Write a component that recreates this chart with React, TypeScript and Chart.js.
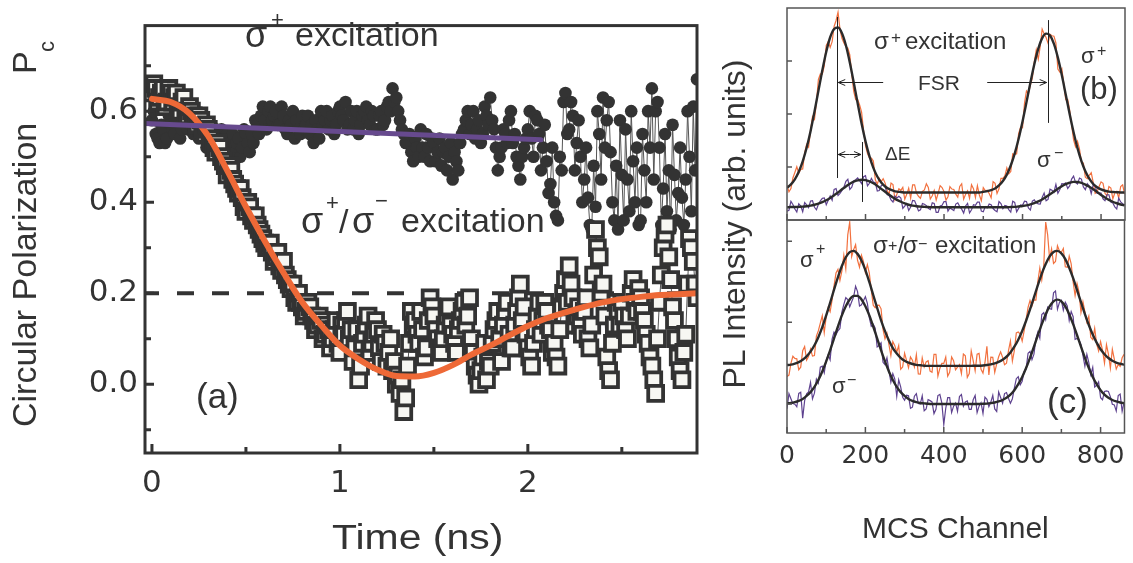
import React, { useEffect, useRef } from 'react';
import { Chart, registerables } from 'chart.js';

Chart.register(...registerables);

const W = 1133;
const H = 563;
const FONT = '"Liberation Sans", Arial, Helvetica, sans-serif';
const TICK_FONT = '"DejaVu Sans", "Liberation Sans", sans-serif';

// ---------------- Panel (a): circular polarization vs time ----------------
const timeNs = [
  0, 0.01, 0.02, 0.03, 0.04, 0.05, 0.06, 0.07, 0.08, 0.09, 0.1, 0.11, 0.12, 0.13, 0.14, 0.15, 0.16, 0.17, 0.18, 0.19,
  0.2, 0.21, 0.22, 0.23, 0.24, 0.25, 0.26, 0.27, 0.28, 0.29, 0.3, 0.31, 0.32, 0.33, 0.34, 0.35, 0.36, 0.37, 0.38, 0.39,
  0.4, 0.41, 0.42, 0.43, 0.44, 0.45, 0.46, 0.47, 0.48, 0.49, 0.5, 0.51, 0.52, 0.53, 0.54, 0.55, 0.56, 0.57, 0.58, 0.59,
  0.6, 0.61, 0.62, 0.63, 0.64, 0.65, 0.66, 0.67, 0.68, 0.69, 0.7, 0.71, 0.72, 0.73, 0.74, 0.75, 0.76, 0.77, 0.78, 0.79,
  0.8, 0.81, 0.82, 0.83, 0.84, 0.85, 0.86, 0.87, 0.88, 0.89, 0.9, 0.91, 0.92, 0.93, 0.94, 0.95, 0.96, 0.97, 0.98, 0.99,
  1.0, 1.01, 1.02, 1.03, 1.04, 1.05, 1.06, 1.07, 1.08, 1.09, 1.1, 1.11, 1.12, 1.13, 1.14, 1.15, 1.16, 1.17, 1.18, 1.19,
  1.2, 1.21, 1.22, 1.23, 1.24, 1.25, 1.26, 1.27, 1.28, 1.29, 1.3, 1.31, 1.32, 1.33, 1.34, 1.35, 1.36, 1.37, 1.38, 1.39,
  1.4, 1.41, 1.42, 1.43, 1.44, 1.45, 1.46, 1.47, 1.48, 1.49, 1.5, 1.51, 1.52, 1.53, 1.54, 1.55, 1.56, 1.57, 1.58, 1.59,
  1.6, 1.61, 1.62, 1.63, 1.64, 1.65, 1.66, 1.67, 1.68, 1.69, 1.7, 1.71, 1.72, 1.73, 1.74, 1.75, 1.76, 1.77, 1.78, 1.79,
  1.8, 1.81, 1.82, 1.83, 1.84, 1.85, 1.86, 1.87, 1.88, 1.89, 1.9, 1.91, 1.92, 1.93, 1.94, 1.95, 1.96, 1.97, 1.98, 1.99,
  2.0, 2.01, 2.02, 2.03, 2.04, 2.05, 2.06, 2.07, 2.08, 2.09, 2.1, 2.11, 2.12, 2.13, 2.14, 2.15, 2.16, 2.17, 2.18, 2.19,
  2.2, 2.21, 2.22, 2.23, 2.24, 2.25, 2.26, 2.27, 2.28, 2.29, 2.3, 2.31, 2.32, 2.33, 2.34, 2.35, 2.36, 2.37, 2.38, 2.39,
  2.4, 2.41, 2.42, 2.43, 2.44, 2.45, 2.46, 2.47, 2.48, 2.49, 2.5, 2.51, 2.52, 2.53, 2.54, 2.55, 2.56, 2.57, 2.58, 2.59,
  2.6, 2.61, 2.62, 2.63, 2.64, 2.65, 2.66, 2.67, 2.68, 2.69, 2.7, 2.71, 2.72, 2.73, 2.74, 2.75, 2.76, 2.77, 2.78, 2.79,
  2.8, 2.81, 2.82, 2.83, 2.84, 2.85, 2.86, 2.87, 2.88, 2.89, 2.9,
];

// sigma+ excitation (filled circles)
const pcSigmaPlus = [
  0.58, 0.60, 0.55, 0.54, 0.53, 0.57, 0.56, 0.53, 0.54, 0.59, 0.57, 0.56, 0.55, 0.60, 0.58, 0.54, 0.56, 0.58, 0.59, 0.56,
  0.57, 0.59, 0.55, 0.56, 0.58, 0.54, 0.56, 0.57, 0.54, 0.52, 0.55, 0.57, 0.53, 0.55, 0.56, 0.52, 0.54, 0.56, 0.52, 0.54,
  0.55, 0.51, 0.53, 0.55, 0.51, 0.53, 0.54, 0.50, 0.52, 0.56, 0.55, 0.53, 0.51, 0.55, 0.53, 0.58, 0.57, 0.55, 0.59, 0.61,
  0.58, 0.56, 0.60, 0.61, 0.58, 0.59, 0.60, 0.57, 0.57, 0.61, 0.59, 0.56, 0.55, 0.58, 0.57, 0.60, 0.54, 0.58, 0.56, 0.55,
  0.59, 0.56, 0.57, 0.59, 0.55, 0.57, 0.53, 0.58, 0.56, 0.54, 0.60, 0.57, 0.58, 0.60, 0.56, 0.58, 0.59, 0.55, 0.57, 0.60,
  0.61, 0.59, 0.58, 0.62, 0.56, 0.57, 0.60, 0.56, 0.58, 0.60, 0.55, 0.57, 0.59, 0.60, 0.61, 0.58, 0.57, 0.60, 0.59, 0.56,
  0.56, 0.59, 0.60, 0.57, 0.58, 0.61, 0.62, 0.60, 0.65, 0.62, 0.63, 0.60, 0.58, 0.56, 0.55, 0.53, 0.53, 0.55, 0.51, 0.49,
  0.54, 0.52, 0.50, 0.56, 0.52, 0.50, 0.55, 0.52, 0.49, 0.54, 0.53, 0.49, 0.51, 0.54, 0.48, 0.51, 0.52, 0.47, 0.50, 0.53,
  0.45, 0.51, 0.49, 0.47, 0.53, 0.55, 0.56, 0.58, 0.60, 0.55, 0.57, 0.60, 0.54, 0.56, 0.58, 0.53, 0.55, 0.61, 0.59, 0.57,
  0.63, 0.58, 0.56, 0.52, 0.47, 0.50, 0.52, 0.56, 0.55, 0.53, 0.58, 0.60, 0.53, 0.55, 0.50, 0.48, 0.45, 0.50, 0.52, 0.54,
  0.56, 0.60, 0.54, 0.50, 0.59, 0.58, 0.55, 0.47, 0.52, 0.57, 0.49, 0.42, 0.44, 0.52, 0.40, 0.37, 0.36, 0.50, 0.47, 0.62,
  0.64, 0.55, 0.56, 0.62, 0.59, 0.47, 0.53, 0.58, 0.50, 0.40, 0.45, 0.52, 0.41, 0.35, 0.34, 0.48, 0.39, 0.60, 0.55, 0.45,
  0.63, 0.52, 0.58, 0.62, 0.51, 0.40, 0.36, 0.48, 0.34, 0.58, 0.46, 0.36, 0.56, 0.45, 0.38, 0.60, 0.49, 0.40, 0.52, 0.35,
  0.36, 0.55, 0.47, 0.40, 0.60, 0.52, 0.65, 0.45, 0.60, 0.62, 0.52, 0.35, 0.43, 0.55, 0.38, 0.47, 0.34, 0.57, 0.46, 0.36,
  0.42, 0.52, 0.41, 0.35, 0.45, 0.60, 0.50, 0.38, 0.61, 0.47, 0.67,
];

// sigma+/sigma- excitation (open squares)
const pcSigmaPM = [
  0.64, 0.66, 0.65, 0.62, 0.63, 0.64, 0.65, 0.61, 0.62, 0.65, 0.64, 0.62, 0.63, 0.64, 0.61, 0.60, 0.62, 0.63, 0.60, 0.59,
  0.61, 0.60, 0.59, 0.58, 0.57, 0.59, 0.58, 0.56, 0.55, 0.57, 0.56, 0.54, 0.53, 0.52, 0.51, 0.53, 0.52, 0.50, 0.49, 0.48,
  0.46, 0.48, 0.47, 0.45, 0.44, 0.43, 0.42, 0.43, 0.41, 0.39, 0.38, 0.40, 0.39, 0.37, 0.36, 0.37, 0.35, 0.34, 0.33, 0.32,
  0.31, 0.30, 0.30, 0.31, 0.29, 0.27, 0.28, 0.29, 0.26, 0.25, 0.27, 0.24, 0.23, 0.22, 0.21, 0.22, 0.19, 0.18, 0.20, 0.18,
  0.17, 0.15, 0.16, 0.18, 0.17, 0.15, 0.14, 0.12, 0.13, 0.15, 0.14, 0.10, 0.11, 0.13, 0.12, 0.08, 0.10, 0.12, 0.14, 0.09,
  0.07, 0.13, 0.11, 0.14, 0.16, 0.10, 0.12, 0.05, 0.08, 0.12, 0.01, 0.04, 0.09, 0.11, 0.13, 0.15, 0.07, 0.09, 0.11, 0.14,
  0.12, 0.08, 0.05, 0.11, 0.09, 0.04, 0.07, 0.10, 0.03, 0.05, 0.00, 0.02, -0.02, 0.01, -0.06, -0.03, 0.04, 0.09, 0.16, 0.13,
  0.14, 0.11, 0.09, 0.16, 0.12, 0.06, 0.08, 0.14, 0.19, 0.17, 0.15, 0.12, 0.10, 0.08, 0.07, 0.10, 0.13, 0.15, 0.17, 0.13,
  0.11, 0.09, 0.07, 0.12, 0.14, 0.16, 0.18, 0.13, 0.15, 0.19, 0.10, 0.07, 0.04, 0.02, 0.00, 0.03, 0.06, 0.09, 0.01, 0.05,
  0.04, 0.09, 0.12, 0.14, 0.16, 0.10, 0.05, 0.13, 0.16, 0.18, 0.11, 0.08, 0.08, 0.13, 0.16, 0.19, 0.22, 0.14, 0.17, 0.11,
  0.08, 0.06, 0.04, 0.09, 0.12, 0.15, 0.18, 0.11, 0.14, 0.18, 0.16, 0.13, 0.12, 0.07, 0.09, 0.06, 0.04, 0.12, 0.17, 0.20,
  0.23, 0.18, 0.26, 0.22, 0.19, 0.13, 0.15, 0.17, 0.13, 0.11, 0.16, 0.19, 0.10, 0.08, 0.13, 0.24, 0.34, 0.30, 0.28, 0.20,
  0.22, 0.15, 0.06, 0.03, 0.01, 0.09, 0.13, 0.18, 0.16, 0.13, 0.18, 0.15, 0.12, 0.10, 0.15, 0.20, 0.23, 0.18, 0.16, 0.21,
  0.19, 0.16, 0.14, 0.11, 0.09, 0.06, 0.04, 0.01, -0.02, 0.10, 0.18, 0.24, 0.30, 0.33, 0.35, 0.28, 0.23, 0.17, 0.14, 0.10,
  0.06, 0.03, 0.01, 0.07, 0.11, 0.22, 0.32, 0.30, 0.27, 0.22, 0.19,
];

// orange fit curve (damped oscillation)
const fitT = [0, 0.1, 0.2, 0.3, 0.4, 0.5, 0.6, 0.7, 0.8, 0.9, 1.0, 1.1, 1.2, 1.3, 1.4, 1.5, 1.6, 1.7, 1.8, 1.9, 2.0, 2.1, 2.2, 2.3, 2.4, 2.5, 2.6, 2.7, 2.8, 2.9];
const fitPc = [0.627, 0.62, 0.595, 0.545, 0.47, 0.39, 0.315, 0.245, 0.18, 0.13, 0.085, 0.055, 0.032, 0.018, 0.017, 0.025, 0.042, 0.065, 0.085, 0.107, 0.128, 0.145, 0.158, 0.17, 0.18, 0.187, 0.192, 0.196, 0.198, 0.2];

// purple linear fit of sigma+ data
const purpleT = [-0.037, 2.07];
const purplePc = [0.573, 0.537];

// dashed reference level
const dashT = [-0.037, 2.9];
const dashPc = [0.2, 0.2];

const aYTicks = [0, 0.2, 0.4, 0.6];
const aYMinor = [-0.1, 0.1, 0.3, 0.5, 0.7];
const aXTicks = [0, 1, 2];
const aXMinor = [0.5, 1.5, 2.5];

// ---------------- Panels (b), (c): PL intensity vs MCS channel ----------------
// channels of the fitted curves
const channel = [
  0, 10, 20, 30, 40, 50, 60, 70, 80, 90,
  100, 110, 120, 130, 140, 150, 160, 170, 180, 190,
  200, 210, 220, 230, 240, 250, 260, 270, 280, 290,
  300, 310, 320, 330, 340, 350, 360, 370, 380, 390,
  400, 410, 420, 430, 440, 450, 460, 470, 480, 490,
  500, 510, 520, 530, 540, 550, 560, 570, 580, 590,
  600, 610, 620, 630, 640, 650, 660, 670, 680, 690,
  700, 710, 720, 730, 740, 750, 760, 770, 780, 790,
  800, 810, 820, 830, 840, 850, 860,
];
// channels of the measured traces
const channelFine = [
  0, 5, 10, 15, 20, 25, 30, 35, 40, 45, 50, 55, 60, 65, 70, 75, 80, 85, 90, 95,
  100, 105, 110, 115, 120, 125, 130, 135, 140, 145, 150, 155, 160, 165, 170, 175, 180, 185, 190, 195,
  200, 205, 210, 215, 220, 225, 230, 235, 240, 245, 250, 255, 260, 265, 270, 275, 280, 285, 290, 295,
  300, 305, 310, 315, 320, 325, 330, 335, 340, 345, 350, 355, 360, 365, 370, 375, 380, 385, 390, 395,
  400, 405, 410, 415, 420, 425, 430, 435, 440, 445, 450, 455, 460, 465, 470, 475, 480, 485, 490, 495,
  500, 505, 510, 515, 520, 525, 530, 535, 540, 545, 550, 555, 560, 565, 570, 575, 580, 585, 590, 595,
  600, 605, 610, 615, 620, 625, 630, 635, 640, 645, 650, 655, 660, 665, 670, 675, 680, 685, 690, 695,
  700, 705, 710, 715, 720, 725, 730, 735, 740, 745, 750, 755, 760, 765, 770, 775, 780, 785, 790, 795,
  800, 805, 810, 815, 820, 825, 830, 835, 840, 845, 850, 855, 860,
];

const bSigmaPlus = [
  0.164, 0.133, 0.148, 0.198, 0.224, 0.251, 0.220, 0.239, 0.241, 0.318, 0.357, 0.344, 0.423, 0.488, 0.475, 0.556, 0.663, 0.689, 0.688, 0.728,
  0.824, 0.842, 0.814, 0.841, 0.913, 0.941, 0.980, 0.899, 0.857, 0.835, 0.818, 0.811, 0.779, 0.687, 0.607, 0.568, 0.568, 0.543, 0.509, 0.422,
  0.351, 0.314, 0.293, 0.292, 0.278, 0.190, 0.169, 0.196, 0.181, 0.195, 0.174, 0.139, 0.122, 0.174, 0.167, 0.096, 0.122, 0.147, 0.140, 0.154,
  0.098, 0.121, 0.150, 0.103, 0.166, 0.166, 0.126, 0.112, 0.102, 0.135, 0.142, 0.171, 0.154, 0.099, 0.114, 0.139, 0.094, 0.126, 0.162, 0.153,
  0.134, 0.094, 0.110, 0.157, 0.146, 0.144, 0.122, 0.108, 0.158, 0.171, 0.098, 0.121, 0.138, 0.103, 0.166, 0.148, 0.106, 0.162, 0.118, 0.091,
  0.153, 0.139, 0.140, 0.125, 0.105, 0.181, 0.173, 0.125, 0.147, 0.196, 0.196, 0.208, 0.246, 0.218, 0.229, 0.312, 0.309, 0.312, 0.407, 0.438,
  0.435, 0.551, 0.609, 0.597, 0.636, 0.669, 0.747, 0.803, 0.759, 0.819, 0.900, 0.878, 0.861, 0.834, 0.876, 0.869, 0.867, 0.835, 0.712, 0.698,
  0.714, 0.643, 0.568, 0.569, 0.518, 0.448, 0.378, 0.345, 0.371, 0.336, 0.274, 0.268, 0.202, 0.195, 0.211, 0.223, 0.178, 0.126, 0.134, 0.158,
  0.180, 0.173, 0.126, 0.114, 0.158, 0.151, 0.100, 0.127, 0.135, 0.104, 0.158, 0.166, 0.122,
];
const bSigmaMinus = [
  0.042, 0.046, 0.088, 0.073, 0.052, 0.038, 0.077, 0.066, 0.039, 0.082, 0.071, 0.058, 0.089, 0.091, 0.060, 0.048, 0.074, 0.090, 0.102, 0.104,
  0.072, 0.093, 0.113, 0.093, 0.144, 0.148, 0.115, 0.126, 0.139, 0.155, 0.182, 0.192, 0.144, 0.155, 0.184, 0.190, 0.199, 0.186, 0.172, 0.204,
  0.209, 0.161, 0.173, 0.196, 0.179, 0.176, 0.137, 0.139, 0.162, 0.167, 0.160, 0.120, 0.116, 0.095, 0.085, 0.113, 0.104, 0.112, 0.104, 0.055,
  0.066, 0.078, 0.045, 0.061, 0.092, 0.091, 0.068, 0.043, 0.048, 0.078, 0.074, 0.068, 0.055, 0.049, 0.081, 0.078, 0.036, 0.036, 0.066, 0.069,
  0.087, 0.087, 0.042, 0.057, 0.051, 0.045, 0.075, 0.081, 0.063, 0.051, 0.033, 0.066, 0.078, 0.033, 0.048, 0.072, 0.069, 0.084, 0.084, 0.042,
  0.039, 0.063, 0.057, 0.075, 0.072, 0.054, 0.045, 0.039, 0.087, 0.078, 0.054, 0.069, 0.066, 0.049, 0.037, 0.089, 0.083, 0.039, 0.055, 0.071,
  0.069, 0.089, 0.087, 0.057, 0.047, 0.089, 0.095, 0.081, 0.076, 0.075, 0.106, 0.127, 0.091, 0.097, 0.145, 0.140, 0.131, 0.168, 0.126, 0.144,
  0.171, 0.170, 0.175, 0.149, 0.161, 0.193, 0.207, 0.177, 0.170, 0.198, 0.193, 0.156, 0.143, 0.171, 0.160, 0.124, 0.166, 0.163, 0.126, 0.128,
  0.127, 0.100, 0.091, 0.119, 0.119, 0.085, 0.080, 0.062, 0.052, 0.103, 0.085, 0.077, 0.072,
];
const bFitPlus = [
  0.152, 0.168, 0.192, 0.228, 0.277, 0.341, 0.419, 0.511, 0.609, 0.706,
  0.794, 0.862, 0.901, 0.908, 0.881, 0.824, 0.743, 0.649, 0.550, 0.455,
  0.371, 0.301, 0.246, 0.205, 0.177, 0.158, 0.146, 0.139, 0.134, 0.132,
  0.130, 0.130, 0.130, 0.130, 0.130, 0.130, 0.130, 0.130, 0.130, 0.130,
  0.130, 0.130, 0.130, 0.130, 0.130, 0.130, 0.130, 0.130, 0.130, 0.130,
  0.133, 0.136, 0.141, 0.149, 0.163, 0.184, 0.214, 0.257, 0.313, 0.383,
  0.465, 0.555, 0.648, 0.735, 0.807, 0.858, 0.879, 0.870, 0.831, 0.766,
  0.684, 0.592, 0.500, 0.414, 0.339, 0.278, 0.230, 0.195, 0.170, 0.154,
  0.144, 0.138, 0.134, 0.132, 0.131, 0.130, 0.130,
];
const bFitMinus = [
  0.060, 0.061, 0.061, 0.062, 0.063, 0.065, 0.068, 0.072, 0.077, 0.084,
  0.093, 0.104, 0.117, 0.130, 0.145, 0.158, 0.171, 0.181, 0.187, 0.190,
  0.188, 0.182, 0.173, 0.161, 0.147, 0.133, 0.119, 0.106, 0.095, 0.086,
  0.078, 0.072, 0.068, 0.065, 0.063, 0.062, 0.061, 0.060, 0.060, 0.060,
  0.060, 0.060, 0.060, 0.060, 0.060, 0.060, 0.060, 0.060, 0.060, 0.060,
  0.060, 0.060, 0.060, 0.060, 0.060, 0.060, 0.060, 0.061, 0.062, 0.064,
  0.066, 0.069, 0.074, 0.080, 0.088, 0.097, 0.109, 0.121, 0.134, 0.147,
  0.159, 0.169, 0.176, 0.180, 0.179, 0.175, 0.167, 0.157, 0.145, 0.132,
  0.118, 0.106, 0.095, 0.086, 0.079, 0.073, 0.069,
];

const cSigmaPlus = [
  0.265, 0.272, 0.327, 0.360, 0.350, 0.348, 0.297, 0.309, 0.386, 0.406, 0.342, 0.359, 0.394, 0.361, 0.364, 0.455, 0.480, 0.516, 0.551, 0.471,
  0.546, 0.588, 0.569, 0.624, 0.691, 0.751, 0.768, 0.716, 0.760, 0.835, 0.771, 0.930, 0.990, 0.828, 0.861, 0.884, 0.811, 0.778, 0.834, 0.806,
  0.753, 0.791, 0.751, 0.673, 0.600, 0.588, 0.599, 0.600, 0.583, 0.486, 0.442, 0.468, 0.416, 0.363, 0.429, 0.410, 0.379, 0.411, 0.299, 0.310,
  0.375, 0.341, 0.306, 0.357, 0.342, 0.310, 0.368, 0.277, 0.276, 0.353, 0.310, 0.334, 0.339, 0.291, 0.285, 0.369, 0.369, 0.267, 0.303, 0.327,
  0.327, 0.357, 0.267, 0.285, 0.357, 0.339, 0.297, 0.309, 0.321, 0.279, 0.371, 0.363, 0.261, 0.279, 0.385, 0.340, 0.292, 0.370, 0.374, 0.299,
  0.281, 0.330, 0.407, 0.273, 0.356, 0.355, 0.285, 0.325, 0.358, 0.381, 0.356, 0.321, 0.328, 0.386, 0.432, 0.338, 0.387, 0.470, 0.474, 0.465,
  0.431, 0.479, 0.533, 0.590, 0.622, 0.597, 0.625, 0.624, 0.712, 0.775, 0.718, 0.783, 0.990, 0.930, 0.817, 0.864, 0.796, 0.805, 0.879, 0.855,
  0.849, 0.866, 0.780, 0.778, 0.830, 0.794, 0.709, 0.645, 0.701, 0.661, 0.566, 0.616, 0.570, 0.521, 0.549, 0.449, 0.438, 0.491, 0.418, 0.385,
  0.429, 0.388, 0.328, 0.415, 0.370, 0.304, 0.393, 0.347, 0.300, 0.321, 0.313, 0.353, 0.369,
];
const cSigmaMinus = [
  0.114, 0.185, 0.161, 0.138, 0.135, 0.123, 0.186, 0.191, 0.070, 0.152, 0.184, 0.193, 0.237, 0.160, 0.187, 0.253, 0.234, 0.309, 0.314, 0.283,
  0.341, 0.367, 0.343, 0.441, 0.474, 0.462, 0.480, 0.491, 0.567, 0.604, 0.635, 0.626, 0.592, 0.616, 0.639, 0.689, 0.664, 0.596, 0.602, 0.621,
  0.640, 0.609, 0.542, 0.501, 0.510, 0.492, 0.404, 0.411, 0.423, 0.332, 0.321, 0.353, 0.294, 0.239, 0.279, 0.253, 0.172, 0.250, 0.217, 0.168,
  0.154, 0.177, 0.175, 0.116, 0.121, 0.173, 0.185, 0.138, 0.136, 0.175, 0.104, 0.113, 0.157, 0.152, 0.146, 0.091, 0.111, 0.176, 0.181, 0.141,
  0.040, 0.116, 0.166, 0.166, 0.096, 0.126, 0.141, 0.101, 0.171, 0.181, 0.126, 0.146, 0.151, 0.111, 0.111, 0.156, 0.176, 0.096, 0.126, 0.142,
  0.092, 0.168, 0.158, 0.124, 0.145, 0.177, 0.113, 0.101, 0.193, 0.167, 0.140, 0.185, 0.190, 0.163, 0.140, 0.161, 0.211, 0.255, 0.264, 0.226,
  0.243, 0.289, 0.300, 0.374, 0.383, 0.344, 0.370, 0.442, 0.474, 0.445, 0.556, 0.565, 0.533, 0.591, 0.584, 0.581, 0.658, 0.667, 0.581, 0.612,
  0.623, 0.576, 0.614, 0.596, 0.528, 0.570, 0.546, 0.440, 0.444, 0.437, 0.415, 0.364, 0.313, 0.369, 0.330, 0.274, 0.308, 0.216, 0.224, 0.240,
  0.166, 0.156, 0.195, 0.198, 0.195, 0.170, 0.135, 0.132, 0.103, 0.176, 0.183, 0.102, 0.145,
];
const cFitPlus = [
  0.319, 0.321, 0.326, 0.333, 0.344, 0.360, 0.382, 0.412, 0.450, 0.497,
  0.552, 0.611, 0.673, 0.732, 0.784, 0.825, 0.849, 0.855, 0.841, 0.810,
  0.765, 0.709, 0.648, 0.587, 0.529, 0.478, 0.434, 0.399, 0.373, 0.353,
  0.339, 0.330, 0.324, 0.320, 0.318, 0.316, 0.315, 0.315, 0.315, 0.315,
  0.315, 0.315, 0.315, 0.315, 0.315, 0.315, 0.315, 0.315, 0.316, 0.316,
  0.317, 0.319, 0.322, 0.327, 0.334, 0.344, 0.358, 0.378, 0.405, 0.438,
  0.479, 0.527, 0.580, 0.637, 0.694, 0.748, 0.793, 0.829, 0.850, 0.855,
  0.843, 0.816, 0.776, 0.727, 0.671, 0.614, 0.558, 0.507, 0.462, 0.424,
  0.393, 0.370, 0.352, 0.339, 0.330, 0.325, 0.321,
];
const cFitMinus = [
  0.139, 0.141, 0.145, 0.151, 0.160, 0.174, 0.192, 0.217, 0.249, 0.289,
  0.336, 0.388, 0.444, 0.500, 0.552, 0.595, 0.627, 0.644, 0.644, 0.627,
  0.595, 0.552, 0.500, 0.444, 0.388, 0.336, 0.289, 0.249, 0.217, 0.192,
  0.174, 0.160, 0.151, 0.145, 0.141, 0.139, 0.137, 0.136, 0.136, 0.136,
  0.136, 0.136, 0.136, 0.136, 0.136, 0.136, 0.136, 0.136, 0.136, 0.136,
  0.137, 0.138, 0.140, 0.143, 0.148, 0.155, 0.165, 0.180, 0.201, 0.229,
  0.263, 0.305, 0.353, 0.405, 0.459, 0.511, 0.558, 0.594, 0.618, 0.626,
  0.618, 0.594, 0.558, 0.511, 0.459, 0.405, 0.353, 0.305, 0.263, 0.229,
  0.201, 0.180, 0.165, 0.155, 0.148, 0.143, 0.140,
];

const mcsTicks = [0, 200, 400, 600, 800];
const mcsMinor = [100, 300, 500, 700];
const bYTicks = [0.25, 0.5, 0.75];
const cYTicks = [0.136, 0.52, 0.9];

// panel (b) marker lines: channel, lower and upper intensity
const bMarkCh = [128, 664, 191];
const bMarkLo = [0.198, 0.458, 0.085];
const bMarkHi = [0.958, 0.943, 0.368];
const fsrLevel = 0.65;
const fsrFrom = [245, 510];
const fsrTo = [128, 664];
const dELevel = 0.31;
const dEChannels = [128, 191];

// ---------------- helpers ----------------
const pts = (xs: number[], ys: number[]) => xs.map((x, i) => ({ x, y: ys[i] }));

function txt(ctx: CanvasRenderingContext2D, s: string, x: number, y: number, size: number, sx = 1, align: CanvasTextAlign = 'left') {
  ctx.save();
  ctx.font = `${size}px ${FONT}`;
  ctx.fillStyle = '#333';
  ctx.textAlign = align;
  ctx.textBaseline = 'alphabetic';
  ctx.translate(x, y);
  ctx.scale(sx, 1);
  ctx.fillText(s, 0, 0);
  ctx.restore();
}

function arrowH(ctx: CanvasRenderingContext2D, x1: number, x2: number, y: number) {
  const d = x2 > x1 ? 1 : -1;
  ctx.moveTo(x1, y);
  ctx.lineTo(x2, y);
  ctx.moveTo(x2 - d * 7, y - 3);
  ctx.lineTo(x2, y);
  ctx.lineTo(x2 - d * 7, y + 3);
}

const decorA = {
  id: 'decorA',
  afterDatasetsDraw(chart: any) {
    const { ctx, chartArea: a, scales } = chart;
    const x = scales.x;
    const y = scales.y;
    ctx.save();
    ctx.strokeStyle = '#333';
    ctx.lineWidth = 3;
    ctx.strokeRect(a.left, a.top, a.right - a.left, a.bottom - a.top);
    ctx.beginPath();
    aYTicks.forEach((v) => { const p = y.getPixelForValue(v); ctx.moveTo(a.left, p); ctx.lineTo(a.left + 9, p); });
    aYMinor.forEach((v) => { const p = y.getPixelForValue(v); ctx.moveTo(a.left, p); ctx.lineTo(a.left + 6, p); });
    aXTicks.forEach((v) => { const p = x.getPixelForValue(v); ctx.moveTo(p, a.bottom); ctx.lineTo(p, a.bottom - 9); });
    aXMinor.forEach((v) => { const p = x.getPixelForValue(v); ctx.moveTo(p, a.bottom); ctx.lineTo(p, a.bottom - 6); });
    ctx.stroke();
    ctx.restore();
  },
  afterDraw(chart: any) {
    const { ctx } = chart;
    ctx.save();
    ctx.translate(36, 427);
    ctx.rotate(-Math.PI / 2);
    ctx.font = `34px ${FONT}`;
    ctx.fillStyle = '#333';
    ctx.fillText('Circular Polarization', 0, 0);
    ctx.fillText('P', 353, 0);
    ctx.font = `22px ${FONT}`;
    ctx.fillText('c', 375, 18);
    ctx.restore();
    txt(ctx, 'Time (ns)', 332, 549, 35, 1.17);
    txt(ctx, 'σ', 245, 47, 36);
    txt(ctx, '+', 271, 27, 22);
    txt(ctx, 'excitation', 295, 46, 34);
    txt(ctx, 'σ', 301, 233, 36);
    txt(ctx, '+', 326, 210, 22);
    txt(ctx, '/', 339, 233, 34);
    txt(ctx, 'σ', 352, 233, 36);
    txt(ctx, '−', 375, 208, 22);
    txt(ctx, 'excitation', 401, 232, 34);
    txt(ctx, '(a)', 196, 408, 35);
  },
};

function frameBC(chart: any, yTicks: number[]) {
  const { ctx, chartArea: a, scales } = chart;
  const x = scales.x;
  const y = scales.y;
  ctx.save();
  ctx.strokeStyle = '#555';
  ctx.lineWidth = 1.5;
  ctx.strokeRect(a.left, a.top, a.right - a.left, a.bottom - a.top);
  ctx.beginPath();
  yTicks.forEach((v) => { const p = y.getPixelForValue(v); ctx.moveTo(a.left, p); ctx.lineTo(a.left + 5, p); });
  mcsTicks.forEach((v) => { const p = x.getPixelForValue(v); ctx.moveTo(p, a.bottom); ctx.lineTo(p, a.bottom - 6); });
  mcsMinor.forEach((v) => { const p = x.getPixelForValue(v); ctx.moveTo(p, a.bottom); ctx.lineTo(p, a.bottom - 4); });
  ctx.stroke();
  ctx.restore();
}

const decorB = {
  id: 'decorB',
  afterDatasetsDraw(chart: any) {
    frameBC(chart, bYTicks);
    const { ctx, scales } = chart;
    const x = scales.x;
    const y = scales.y;
    ctx.save();
    ctx.strokeStyle = '#222';
    ctx.lineWidth = 1;
    ctx.beginPath();
    bMarkCh.forEach((c, i) => {
      const p = Math.round(x.getPixelForValue(c)) + 0.5;
      ctx.moveTo(p, y.getPixelForValue(bMarkLo[i]));
      ctx.lineTo(p, y.getPixelForValue(bMarkHi[i]));
    });
    const fy = Math.round(y.getPixelForValue(fsrLevel)) + 0.5;
    fsrFrom.forEach((c, i) => arrowH(ctx, x.getPixelForValue(c), x.getPixelForValue(fsrTo[i]) + (i === 0 ? 1 : -1), fy));
    const dy = Math.round(y.getPixelForValue(dELevel)) + 0.5;
    const x0 = x.getPixelForValue(dEChannels[0]);
    const x1 = x.getPixelForValue(dEChannels[1]);
    const mid = (x0 + x1) / 2;
    arrowH(ctx, mid, x0 + 1, dy);
    arrowH(ctx, mid, x1 - 1, dy);
    ctx.stroke();
    ctx.restore();
  },
  afterDraw(chart: any) {
    const { ctx } = chart;
    txt(ctx, 'σ', 874, 49, 24);
    txt(ctx, '+', 891, 43, 17);
    txt(ctx, 'excitation', 905, 49, 24);
    txt(ctx, 'σ', 1081, 63, 22);
    txt(ctx, '+', 1097, 56, 16);
    txt(ctx, '(b)', 1080, 99, 31);
    txt(ctx, 'σ', 1037, 167, 22);
    txt(ctx, '−', 1054, 158, 16);
    txt(ctx, 'FSR', 918, 90, 21);
    txt(ctx, 'ΔE', 885, 160, 19);
  },
};

const decorC = {
  id: 'decorC',
  afterDatasetsDraw(chart: any) {
    frameBC(chart, cYTicks);
  },
  afterDraw(chart: any) {
    const { ctx } = chart;
    txt(ctx, 'σ', 800, 267, 22);
    txt(ctx, '+', 816, 254, 16);
    txt(ctx, 'σ', 873, 253, 24);
    txt(ctx, '+', 888, 251, 16);
    txt(ctx, '/', 898, 253, 24);
    txt(ctx, 'σ', 903, 253, 24);
    txt(ctx, '−', 918, 249, 16);
    txt(ctx, 'excitation', 935, 253, 24);
    txt(ctx, 'σ', 832, 393, 22);
    txt(ctx, '−', 847, 385, 16);
    txt(ctx, '(c)', 1047, 413, 35);
    txt(ctx, 'MCS Channel', 862, 538, 30);
    ctx.save();
    ctx.translate(745, 224);
    ctx.rotate(-Math.PI / 2);
    ctx.font = `32px ${FONT}`;
    ctx.fillStyle = '#333';
    ctx.textAlign = 'center';
    ctx.fillText('PL Intensity (arb. units)', 0, 0);
    ctx.restore();
  },
};

const baseOpts = (padding: any) => ({
  responsive: false,
  maintainAspectRatio: false,
  animation: false as const,
  events: [] as any[],
  layout: { padding },
  plugins: { legend: { display: false }, tooltip: { enabled: false } },
});

function makeA(canvas: HTMLCanvasElement) {
  return new Chart(canvas, {
    type: 'line',
    data: {
      datasets: [
        { data: pts(purpleT, purplePc), borderColor: '#674a8e', borderWidth: 5, pointRadius: 0, borderCapStyle: 'round', order: 0 } as any,
        { data: pts(fitT, fitPc), borderColor: '#ee6937', borderWidth: 6, pointRadius: 0, cubicInterpolationMode: 'monotone', borderCapStyle: 'round', order: 1 },
        { data: pts(timeNs, pcSigmaPM), borderColor: '#555', borderWidth: 1, pointStyle: 'rect', pointRadius: 10.5, pointBorderWidth: 3.8, pointBorderColor: '#333', pointBackgroundColor: '#f7f7f3', order: 2 },
        { data: pts(timeNs, pcSigmaPlus), borderColor: '#555', borderWidth: 1, pointStyle: 'circle', pointRadius: 6.3, pointBorderWidth: 0, pointBackgroundColor: '#333', order: 3 },
        { data: pts(dashT, dashPc), borderColor: '#333', borderWidth: 4, borderDash: [17, 18], borderDashOffset: 3, pointRadius: 0, order: 4 },
      ],
    },
    options: {
      ...baseOpts({ left: 0, top: 5, right: W - 697, bottom: 0 }),
      scales: {
        x: {
          type: 'linear', min: -0.037, max: 2.9,
          grid: { display: false, drawTicks: false }, border: { display: false },
          ticks: { color: '#333', font: { family: TICK_FONT, size: 31 }, padding: 12, callback: (v: any) => String(v) },
          afterBuildTicks: (s: any) => { s.ticks = aXTicks.map((v) => ({ value: v })); },
          afterFit: (s: any) => { s.height = H - 453; },
        },
        y: {
          type: 'linear', min: -0.151, max: 0.788,
          grid: { display: false, drawTicks: false }, border: { display: false },
          ticks: { color: '#333', font: { family: TICK_FONT, size: 31 }, padding: 7, callback: (v: any) => Number(v).toFixed(1) },
          afterBuildTicks: (s: any) => { s.ticks = aYTicks.map((v) => ({ value: v })); },
          afterFit: (s: any) => { s.width = 145; },
        },
      },
    } as any,
    plugins: [decorA],
  });
}

function traceSets(plus: number[], minus: number[], fitP: number[], fitM: number[]) {
  return [
    { data: pts(channel, fitP), borderColor: '#2b2b2b', borderWidth: 2.4, pointRadius: 0, cubicInterpolationMode: 'monotone', order: 0 },
    { data: pts(channel, fitM), borderColor: '#2b2b2b', borderWidth: 2.4, pointRadius: 0, cubicInterpolationMode: 'monotone', order: 1 },
    { data: pts(channelFine, minus), borderColor: '#5e428f', borderWidth: 1.2, pointRadius: 0, order: 2 },
    { data: pts(channelFine, plus), borderColor: '#f2713f', borderWidth: 1.2, pointRadius: 0, order: 3 },
  ];
}

function makeBC(canvas: HTMLCanvasElement, which: 'b' | 'c') {
  const isC = which === 'c';
  return new Chart(canvas, {
    type: 'line',
    data: {
      datasets: isC
        ? traceSets(cSigmaPlus, cSigmaMinus, cFitPlus, cFitMinus)
        : traceSets(bSigmaPlus, bSigmaMinus, bFitPlus, bFitMinus),
    } as any,
    options: {
      ...baseOpts({ left: 0, top: isC ? 220 : 8, right: W - 1125, bottom: 0 }),
      scales: {
        x: {
          type: 'linear', min: 0, max: 861,
          grid: { display: false, drawTicks: false }, border: { display: false },
          ticks: { display: isC, color: '#333', font: { family: TICK_FONT, size: 25 }, padding: 8, callback: (v: any) => String(v) },
          afterBuildTicks: (s: any) => { s.ticks = mcsTicks.map((v) => ({ value: v })); },
          afterFit: (s: any) => { s.height = isC ? H - 433 : H - 220; },
        },
        y: {
          type: 'linear', min: 0, max: 1,
          grid: { display: false, drawTicks: false }, border: { display: false },
          ticks: { display: false },
          afterFit: (s: any) => { s.width = 787; },
        },
      },
    } as any,
    plugins: [isC ? decorC : decorB],
  });
}

export default function App() {
  const refA = useRef<HTMLCanvasElement>(null);
  const refB = useRef<HTMLCanvasElement>(null);
  const refC = useRef<HTMLCanvasElement>(null);

  useEffect(() => {
    document.body.style.margin = '0';
    const charts = [
      makeA(refA.current as HTMLCanvasElement),
      makeBC(refB.current as HTMLCanvasElement, 'b'),
      makeBC(refC.current as HTMLCanvasElement, 'c'),
    ];
    return () => charts.forEach((c) => c.destroy());
  }, []);

  const cs: React.CSSProperties = { position: 'absolute', left: 0, top: 0 };
  return (
    <div style={{ position: 'relative', width: W, height: H, background: '#fff', overflow: 'hidden' }}>
      <canvas ref={refA} width={W} height={H} style={cs} />
      <canvas ref={refB} width={W} height={H} style={cs} />
      <canvas ref={refC} width={W} height={H} style={cs} />
    </div>
  );
}
